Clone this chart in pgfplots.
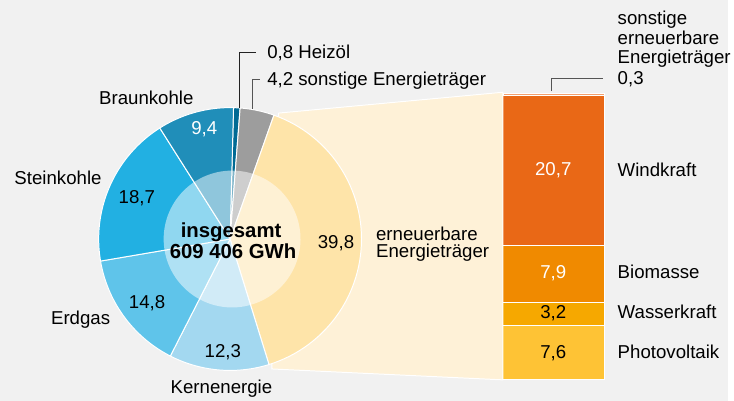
\documentclass[border=0pt]{standalone}
\usepackage{pgfplots}
\pgfplotsset{compat=1.18}
\usepackage{fontspec}
\setmainfont{Liberation Sans}
\definecolor{bg}{HTML}{F1F1F1}
\definecolor{txt}{HTML}{222222}
\definecolor{braun}{HTML}{208EB9}
\definecolor{heiz}{HTML}{006A94}
\definecolor{stein}{HTML}{22B0E2}
\definecolor{erdgas}{HTML}{5FC4EA}
\definecolor{kern}{HTML}{A3D8F0}
\definecolor{sonst}{HTML}{9D9D9D}
\definecolor{ee}{HTML}{FEE4A9}
\definecolor{trap}{HTML}{FEF1D7}
\definecolor{wind}{HTML}{E96816}
\definecolor{bio}{HTML}{F08A00}
\definecolor{wasser}{HTML}{F6A800}
\definecolor{pv}{HTML}{FEC335}
\definecolor{sonstee}{HTML}{F3A06E}
\definecolor{lead}{HTML}{555555}
\newcommand\fs{\fontsize{18.8}{22}\selectfont}
\newcommand\fb{\fontsize{20.5}{22}\selectfont\bfseries}
% sector: start (percent), value (percent), colour
\newcommand\sector[3]{%
  \addplot[fill=#3, draw=white, line width=1pt, domain={1.5+3.6*(#1)}:{1.5+3.6*(#1+#2)}, samples=60, variable=\t]
    ({232+132.5*sin(\t)},{241-132.5*cos(\t)}) -- (axis cs:232,241) -- cycle;
}
\begin{document}
\begin{tikzpicture}
\fill[bg] (0,0) rectangle (734pt,404pt);
% stacked bar of renewables
\begin{axis}[at={(507pt,21pt)}, anchor=origin, width=102pt, height=288.6pt, scale only axis,
  xmin=0, xmax=1, ymin=0, ymax=39.7, ybar stacked, bar width=102pt, hide axis, clip=false]
\addplot[fill=pv, draw=white, line width=0.8pt] coordinates {(0.5,7.6)};
\addplot[fill=wasser, draw=white, line width=0.8pt] coordinates {(0.5,3.2)};
\addplot[fill=bio, draw=white, line width=0.8pt] coordinates {(0.5,7.9)};
\addplot[fill=wind, draw=white, line width=0.8pt] coordinates {(0.5,20.7)};
\addplot[fill=sonstee, draw=white, line width=0.4pt] coordinates {(0.5,0.3)};
\end{axis}
\begin{axis}[at={(0pt,0pt)}, anchor=south west, width=734pt, height=404pt, scale only axis,
  xmin=0, xmax=734, ymin=0, ymax=404, y dir=reverse, hide axis, clip=false,
  every node/.style={inner sep=0pt, text=txt}]
% expansion area
\addplot[fill=trap, draw=white, line width=1pt] coordinates {(281,114) (507,93) (507,383) (274,372)} -- cycle;
% pie sectors, clockwise from the top
\sector{0}{0.8}{heiz}
\sector{0.8}{4.2}{sonst}
\sector{5.0}{39.8}{ee}
\sector{44.8}{12.3}{kern}
\sector{57.1}{14.8}{erdgas}
\sector{71.9}{18.7}{stein}
\sector{90.6}{9.4}{braun}
% lighter inner disc
\addplot[fill=white, fill opacity=0.5, draw=none, domain=0:360, samples=120, variable=\t]
  ({234+69*sin(\t)},{241-69*cos(\t)}) -- cycle;
% leader lines
\addplot[draw=txt, line width=0.9pt] coordinates {(241.7,109) (241.7,53) (258,53)};
\addplot[draw=lead, line width=0.9pt] coordinates {(255,110) (255,80) (262,80)};
\addplot[draw=lead, line width=0.9pt] coordinates {(556,92) (556,79.5) (608,79.5)};
% labels
\node[anchor=base] at (axis cs:147.5,105) {\fs Braunkohle};
\node[anchor=base, text=white] at (axis cs:206,135.5) {\fs 9,4};
\node[anchor=base] at (axis cs:58.5,186) {\fs Steinkohle};
\node[anchor=base] at (axis cs:138,205) {\fs 18,7};
\node[anchor=base] at (axis cs:81.3,327.5) {\fs Erdgas};
\node[anchor=base] at (axis cs:148.3,311) {\fs 14,8};
\node[anchor=base] at (axis cs:224.7,360) {\fs 12,3};
\node[anchor=base] at (axis cs:223.3,397) {\fs Kernenergie};
\node[anchor=base] at (axis cs:338.8,250.5) {\fs 39,8};
\node[anchor=base] at (axis cs:233,239) {\fb insgesamt};
\node[anchor=base] at (axis cs:235,261) {\fb 609 406 GWh};
\node[anchor=base west] at (axis cs:375.7,242) {\fs erneuerbare};
\node[anchor=base west] at (axis cs:375.7,260) {\fs Energieträger};
\node[anchor=base west] at (axis cs:266,59) {\fs 0,8 Heizöl};
\node[anchor=base west] at (axis cs:266,86) {\fs 4,2 sonstige Energieträger};
\node[anchor=base west] at (axis cs:619.3,24.5) {\fs sonstige};
\node[anchor=base west] at (axis cs:619.3,44.5) {\fs erneuerbare};
\node[anchor=base west] at (axis cs:619.3,64.5) {\fs Energieträger};
\node[anchor=base west] at (axis cs:619.3,85) {\fs 0,3};
\node[anchor=base, text=white] at (axis cs:557.8,176.7) {\fs 20,7};
\node[anchor=base west] at (axis cs:619.3,178) {\fs Windkraft};
\node[anchor=base, text=white] at (axis cs:557.8,281) {\fs 7,9};
\node[anchor=base west] at (axis cs:619.3,281) {\fs Biomasse};
\node[anchor=base] at (axis cs:557.8,321.5) {\fs 3,2};
\node[anchor=base west] at (axis cs:619.3,320.7) {\fs Wasserkraft};
\node[anchor=base] at (axis cs:557.8,361) {\fs 7,6};
\node[anchor=base west] at (axis cs:619.3,361) {\fs Photovoltaik};
\end{axis}
\end{tikzpicture}
\end{document}
